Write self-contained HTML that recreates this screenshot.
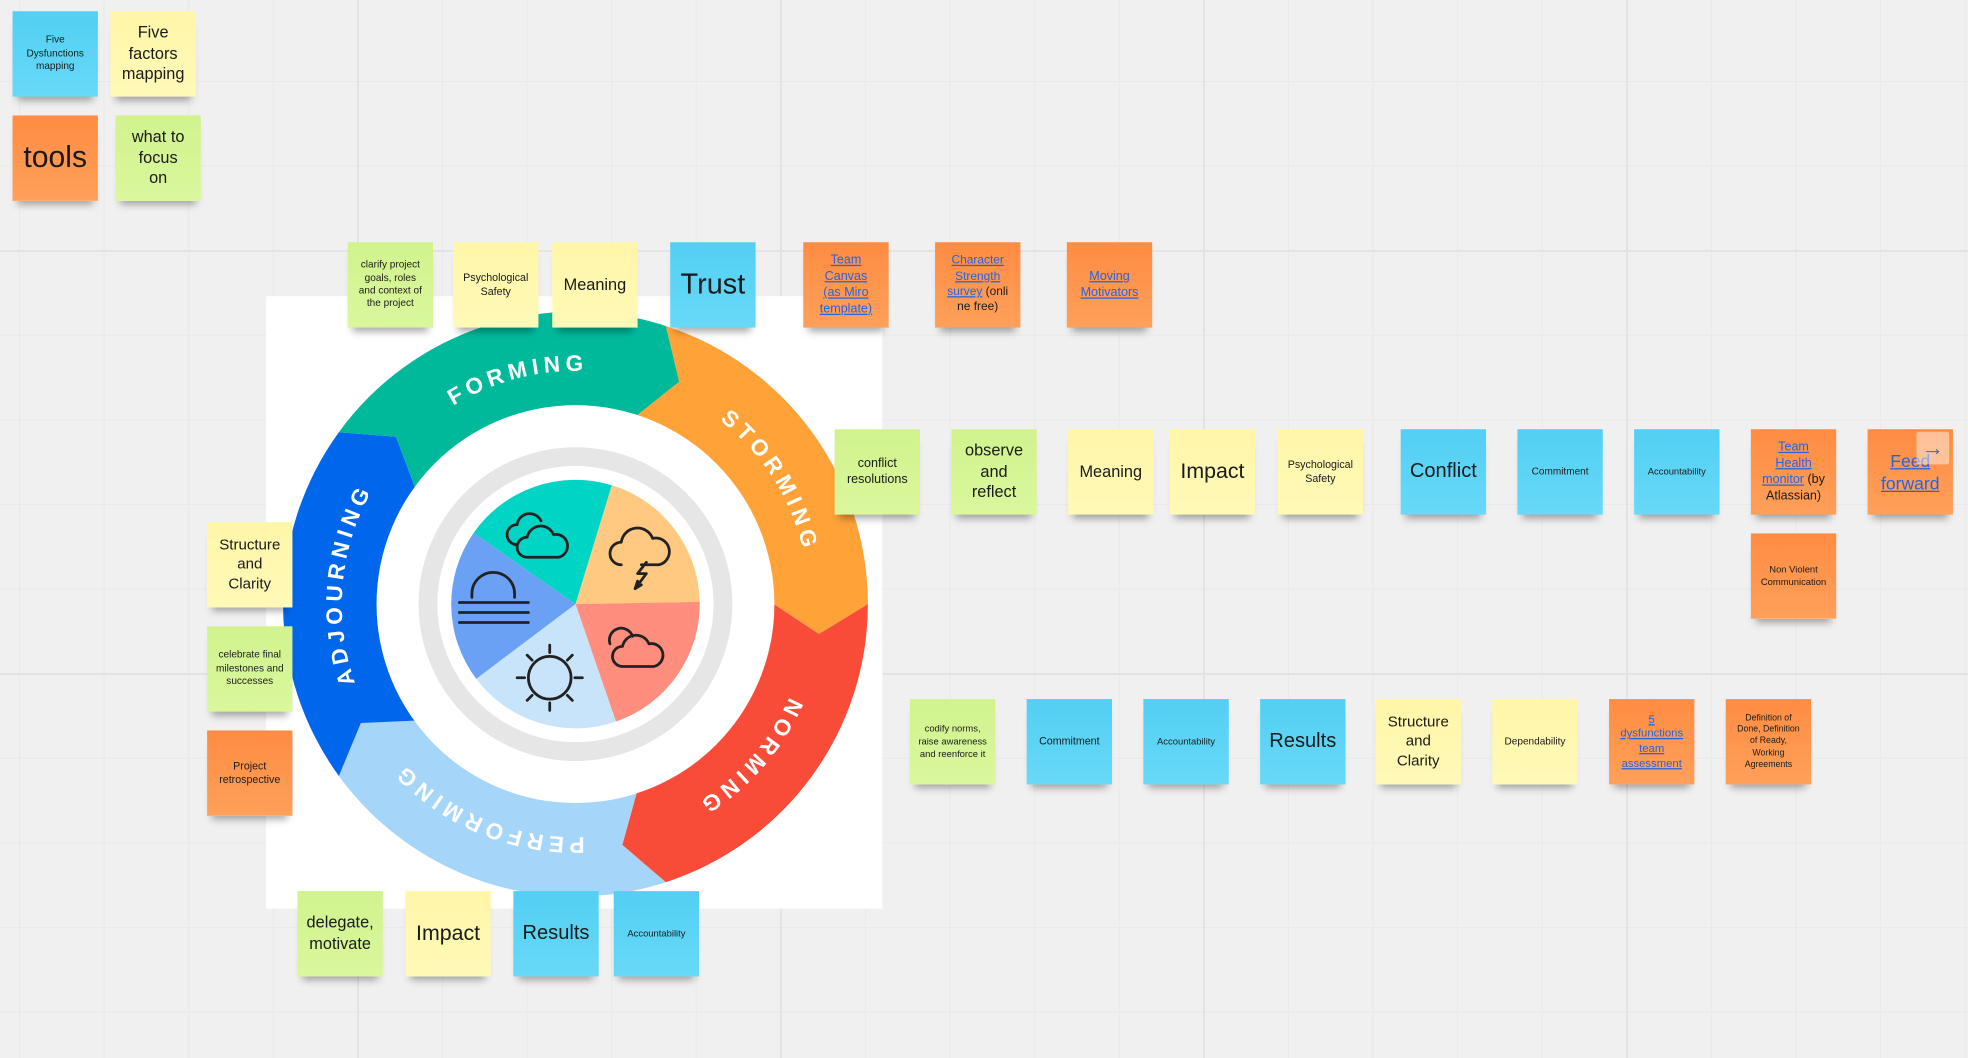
<!DOCTYPE html>
<html><head><meta charset="utf-8">
<style>
html,body{margin:0;padding:0;}
body{width:1968px;height:1058px;overflow:hidden;position:relative;
background-color:#f0f0f0;
background-image:
linear-gradient(to right,#e3e3e3 2px,transparent 2px),
linear-gradient(to bottom,#e3e3e3 2px,transparent 2px),
linear-gradient(to right,#e9e9e9 1px,transparent 1px),
linear-gradient(to bottom,#e9e9e9 1px,transparent 1px);
background-size:423px 423px,423px 423px,84.6px 84.6px,84.6px 84.6px;
background-position:357px 0,0 250px,19px 0,0 81px;
font-family:"Liberation Sans",sans-serif;}
#c{position:absolute;left:0;top:0;width:1568px;height:843px;transform:scale(1.2551);transform-origin:0 0;}
.s{position:absolute;width:68px;height:68px;display:flex;align-items:center;justify-content:center;text-align:center;color:#1a1a1a;box-shadow:0 7px 6px -4px rgba(0,0,0,0.35);line-height:1.3;box-sizing:border-box;padding:2px 6px;}
.b{background:linear-gradient(#52cff3,#68d9f7);}
.y{background:linear-gradient(#fff6a8,#fff9b8);}
.g{background:linear-gradient(#d1f38e,#daf79c);}
.o{background:linear-gradient(#ff8c42,#ffa05a);}
a{color:#2563e0;text-decoration:underline;}
#wh{position:absolute;left:212px;top:236px;width:491px;height:488px;background:#fff;}
</style></head><body>
<div id="c">
<div id="wh"></div>
<svg id="wheel" width="1568" height="843" style="position:absolute;left:0;top:0" viewBox="0 0 1568 843"></svg>

<div class="s b" style="left:10px;top:9px;font-size:8px;padding:2px 10px">Five Dysfunctions mapping</div>
<div class="s y" style="left:88px;top:9px;font-size:13px">Five factors mapping</div>
<div class="s o" style="left:10px;top:92px;font-size:24px">tools</div>
<div class="s g" style="left:92px;top:92px;font-size:13px;padding:2px 10px">what to focus on</div>

<div class="s g" style="left:277px;top:193px;font-size:8px;padding:2px 7px">clarify project goals, roles and context of the project</div>
<div class="s y" style="left:361px;top:193px;font-size:8.5px">Psychological Safety</div>
<div class="s y" style="left:440px;top:193px;font-size:13px">Meaning</div>
<div class="s b" style="left:534px;top:193px;font-size:23px">Trust</div>
<div class="s o" style="left:640px;top:193px;font-size:10px;padding:2px 10px"><a>Team Canvas (as Miro template)</a></div>
<div class="s o" style="left:745px;top:193px;font-size:9.5px;padding:2px 7px"><span><a>Character Strength survey</a> (onli ne free)</span></div>
<div class="s o" style="left:850px;top:193px;font-size:10px"><a>Moving Motivators</a></div>

<div class="s g" style="left:665px;top:342px;font-size:10px">conflict resolutions</div>
<div class="s g" style="left:758px;top:342px;font-size:13px;padding:2px 10px">observe and reflect</div>
<div class="s y" style="left:851px;top:342px;font-size:13px">Meaning</div>
<div class="s y" style="left:932px;top:342px;font-size:17px">Impact</div>
<div class="s y" style="left:1018px;top:342px;font-size:8.5px">Psychological Safety</div>
<div class="s b" style="left:1116px;top:342px;font-size:16px">Conflict</div>
<div class="s b" style="left:1209px;top:342px;font-size:8px">Commitment</div>
<div class="s b" style="left:1302px;top:342px;font-size:7.5px">Accountability</div>
<div class="s o" style="left:1395px;top:342px;font-size:10px;padding:2px 8px"><span><a>Team Health monitor</a> (by Atlassian)</span></div>
<div class="s o" style="left:1488px;top:342px;font-size:14px"><a>Feed forward</a></div>
<div style="position:absolute;left:1527px;top:344px;width:26px;height:26px;background:rgba(255,255,255,0.45);border-radius:2px;color:#2f6be6;font-size:18px;line-height:26px;text-align:center;font-weight:bold">&#8594;</div>
<div class="s o" style="left:1395px;top:425px;font-size:7.5px">Non Violent Communication</div>

<div class="s g" style="left:725px;top:557px;font-size:7.5px">codify norms, raise awareness and reenforce it</div>
<div class="s b" style="left:818px;top:557px;font-size:8.5px">Commitment</div>
<div class="s b" style="left:911px;top:557px;font-size:7.5px">Accountability</div>
<div class="s b" style="left:1004px;top:557px;font-size:16px">Results</div>
<div class="s y" style="left:1096px;top:557px;font-size:12px;padding:2px 9px">Structure and Clarity</div>
<div class="s y" style="left:1189px;top:557px;font-size:8px">Dependability</div>
<div class="s o" style="left:1282px;top:557px;font-size:9px"><a>5 dysfunctions team assessment</a></div>
<div class="s o" style="left:1375px;top:557px;font-size:7px">Definition of Done, Definition of Ready, Working Agreements</div>

<div class="s y" style="left:165px;top:416px;font-size:12px;padding:2px 9px">Structure and Clarity</div>
<div class="s g" style="left:165px;top:499px;font-size:8px">celebrate final milestones and successes</div>
<div class="s o" style="left:165px;top:582px;font-size:8.5px">Project retrospective</div>

<div class="s g" style="left:237px;top:710px;font-size:13px">delegate, motivate</div>
<div class="s y" style="left:323px;top:710px;font-size:17px">Impact</div>
<div class="s b" style="left:409px;top:710px;font-size:16px">Results</div>
<div class="s b" style="left:489px;top:710px;font-size:7.5px">Accountability</div>
</div>

<script>
(function(){
var cx=458.5,cy=481.3,R=233,r=158,rm=195.5,NS="http://www.w3.org/2000/svg";
var svg=document.getElementById('wheel');
function P(rad,a){a=a*Math.PI/180;return (cx+rad*Math.cos(a)).toFixed(2)+","+(cy+rad*Math.sin(a)).toFixed(2);}
function el(t,at){var e=document.createElementNS(NS,t);for(var k in at)e.setAttribute(k,at[k]);svg.appendChild(e);return e;}
var cols=["#ffa238","#f84c39","#a6d5fa","#0066ec","#00b99b"];
for(var i=0;i<5;i++){
 var a0=-72+72*i,a1=a0+72,d;
 d="M"+P(R,a0)+" A"+R+","+R+" 0 0 1 "+P(R,a1)+" L"+P(rm,a1+7)+" L"+P(r,a1)+
   " A"+r+","+r+" 0 0 0 "+P(r,a0)+" L"+P(rm,a0+7)+" Z";
 el("path",{d:d,fill:cols[i]});
}
el("circle",{cx:cx,cy:cy,r:r+0.5,fill:"#fff"});
el("circle",{cx:cx,cy:cy,r:117.5,fill:"none",stroke:"#e6e6e6","stroke-width":15});
var pc=["#ffc982","#ff8e7e","#c8e4fb","#6aa1f5","#00d4c4"];
for(var j=0;j<5;j++){
 var b0=-73+72*j,b1=b0+72,pr=99;
 el("path",{d:"M"+cx+","+cy+" L"+P(pr,b0)+" A"+pr+","+pr+" 0 0 1 "+P(pr,b1)+" Z",fill:pc[j]});
}
var tr=193;
el("path",{id:"tp",fill:"none",d:"M"+P(tr,150)+" A"+tr+","+tr+" 0 0 1 "+P(tr,330)+" A"+tr+","+tr+" 0 0 1 "+P(tr,150)});
var C=2*Math.PI*tr;
[["FORMING",-104.6],["STORMING",-32.8],["NORMING",40.3],["PERFORMING",111.5],["ADJOURNING",185]].forEach(function(l){
 var off=(((l[1]-150)%360+360)%360)/360*C;
 var t=el("text",{"font-family":"Liberation Sans, sans-serif","font-size":"18","font-weight":"bold",fill:"#fff","letter-spacing":"4.5","text-anchor":"middle","dominant-baseline":"central"});
 var p=document.createElementNS(NS,"textPath");
 p.setAttributeNS("http://www.w3.org/1999/xlink","href","#tp");p.setAttribute("href","#tp");
 p.setAttribute("startOffset",off.toFixed(1));p.textContent=l[0];t.appendChild(p);
});
var g='fill="none" stroke="#222" stroke-width="2.2" stroke-linecap="round" stroke-linejoin="round"';
var ic='';
ic+='<g transform="translate(402,412)"><path '+g+' d="M10,22 a8,8 0 0 1 0,-16 a10,10 0 0 1 19,-3" /><path '+g+' fill="#00d4c4" d="M18,32 a8,8 0 0 1 0,-16 a11,11 0 0 1 21,-2 a8,8 0 0 1 4,18 Z"/></g>';
ic+='<g transform="translate(485,418)"><path '+g+' d="M10,32 a9,9 0 0 1 0,-18 a13,13 0 0 1 25,-3 a10,10 0 0 1 5,21 L26,32"/><path '+g+' d="M30,30 l-7,9 h7 l-9,12 m9,-21 M21,51 l2,-6 m-2,6 l5,-3"/></g>';
ic+='<g transform="translate(482,495)"><path '+g+' d="M4,18 a9,9 0 0 1 18,-6" /><path '+g+' fill="#ff8e7e" d="M14,36 a8,8 0 0 1 0,-16 a11,11 0 0 1 21,-2 a8,8 0 0 1 4,18 Z"/></g>';
ic+='<g '+g+'><circle cx="438" cy="540" r="17"/><path d="M438,514v6M438,560v6M412,540h6M458,540h6M420,522l4,4M452,554l4,4M456,522l-4,4M420,558l4,-4"/></g>';
ic+='<g '+g+'><path d="M376,476 v-3 a17,17 0 0 1 34,0 v3"/><path d="M366,480h55M366,488h55M366,496h55"/></g>';
svg.insertAdjacentHTML('beforeend',ic);
})();
</script>
</body></html>
